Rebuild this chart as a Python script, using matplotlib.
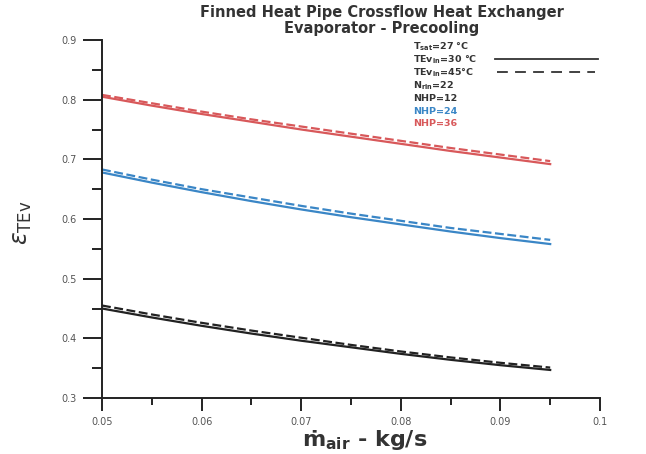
import matplotlib
matplotlib.use("Agg")
import matplotlib.pyplot as plt
from matplotlib.ticker import MultipleLocator

plt.rcParams['font.family'] = ['DejaVu Sans']
plt.rcParams['mathtext.fontset'] = 'dejavusans'

m_air = [0.050, 0.055, 0.060, 0.065, 0.070, 0.075, 0.080, 0.085, 0.090, 0.095]
nhp36_30 = [0.805, 0.790, 0.776, 0.763, 0.750, 0.738, 0.726, 0.714, 0.703, 0.692]
nhp36_45 = [0.808, 0.794, 0.780, 0.767, 0.755, 0.743, 0.731, 0.719, 0.708, 0.697]
nhp24_30 = [0.678, 0.661, 0.645, 0.630, 0.616, 0.603, 0.591, 0.579, 0.568, 0.558]
nhp24_45 = [0.683, 0.666, 0.650, 0.636, 0.622, 0.609, 0.597, 0.585, 0.575, 0.565]
nhp12_30 = [0.450, 0.435, 0.421, 0.408, 0.396, 0.385, 0.374, 0.364, 0.355, 0.347]
nhp12_45 = [0.455, 0.440, 0.426, 0.413, 0.401, 0.389, 0.378, 0.368, 0.359, 0.351]

xticks = [0.05, 0.06, 0.07, 0.08, 0.09, 0.1]
xticklabels = ['0.05', '0.06', '0.07', '0.08', '0.09', '0.1']
yticks = [0.3, 0.4, 0.5, 0.6, 0.7, 0.8, 0.9]
yticklabels = ['0.3', '0.4', '0.5', '0.6', '0.7', '0.8', '0.9']

RED = '#d8585a'
BLUE = '#3a86c6'
BLACK = '#222222'
TXT = '#333333'

W, H = 646, 454
fig = plt.figure(figsize=(6.46, 4.54), dpi=100)
L, R, T, B = 102, 600, 40, 398
ax = fig.add_axes([L/W, 1-B/H, (R-L)/W, (B-T)/H])

for ys, c in [(nhp36_30, RED), (nhp24_30, BLUE), (nhp12_30, BLACK)]:
    ax.plot(m_air, ys, color=c, lw=1.6, ls='-')
for ys, c in [(nhp36_45, RED), (nhp24_45, BLUE), (nhp12_45, BLACK)]:
    ax.plot(m_air, ys, color=c, lw=1.6, ls=(0, (4, 1.6)))

ax.set_xlim(0.05, 0.1)
ax.set_ylim(0.3, 0.9)
ax.set_xticks(xticks)
ax.set_xticklabels(xticklabels)
ax.set_yticks(yticks)
ax.set_yticklabels(yticklabels)
ax.xaxis.set_minor_locator(MultipleLocator(0.005))
ax.yaxis.set_minor_locator(MultipleLocator(0.05))
ax.spines['top'].set_visible(False)
ax.spines['right'].set_visible(False)
for s in ['left', 'bottom']:
    ax.spines[s].set_linewidth(1.4)
    ax.spines[s].set_color(BLACK)
ax.tick_params(axis='x', which='major', direction='out', length=9, width=1.4, labelsize=7,
               labelcolor='#555555', color=BLACK, pad=5)
ax.tick_params(axis='y', which='major', direction='out', length=14, width=1.4, labelsize=7,
               labelcolor='#555555', color=BLACK, pad=4)
ax.tick_params(axis='x', which='minor', direction='out', length=5, width=1.4, color=BLACK)
ax.tick_params(axis='y', which='minor', direction='out', length=7, width=1.4, color=BLACK)

fig.text(365/W, 1-440/H, 'ṁ$_{\\mathbf{air}}$ - kg/s', ha='center', va='center',
         fontsize=16, fontweight='bold', color=TXT)
fig.text(22/W, 1-223/H, r'$\varepsilon_{\mathrm{TEv}}$', ha='center', va='center',
         rotation=90, fontsize=17, color=TXT)

fig.text(382/W, 1-13/H, 'Finned Heat Pipe Crossflow Heat Exchanger', ha='center', va='center',
         fontsize=10.5, fontweight='bold', color=TXT)
fig.text(382/W, 1-29/H, 'Evaporator - Precooling', ha='center', va='center',
         fontsize=10.5, fontweight='bold', color=TXT)

leg = [
    (r'T$_{\mathbf{sat}}$=27 °C', TXT),
    (r'TEv$_{\mathbf{in}}$=30 °C', TXT),
    (r'TEv$_{\mathbf{in}}$=45°C', TXT),
    (r'N$_{\mathbf{rin}}$=22', TXT),
    ('NHP=12', TXT),
    ('NHP=24', BLUE),
    ('NHP=36', RED),
]
for i, (t, c) in enumerate(leg):
    yp = 47 + 12.8 * i
    fig.text(413/W, 1-yp/H, t, ha='left', va='center', fontsize=6.8, fontweight='bold', color=c)

fig.add_artist(plt.Line2D([495/W, 598/W], [1-59/H, 1-59/H], color=TXT, lw=1.3))
fig.add_artist(plt.Line2D([497/W, 595/W], [1-72/H, 1-72/H], color=TXT, lw=1.3,
                          ls=(0, (6, 4))))

fig.savefig('out.png', dpi=100)
